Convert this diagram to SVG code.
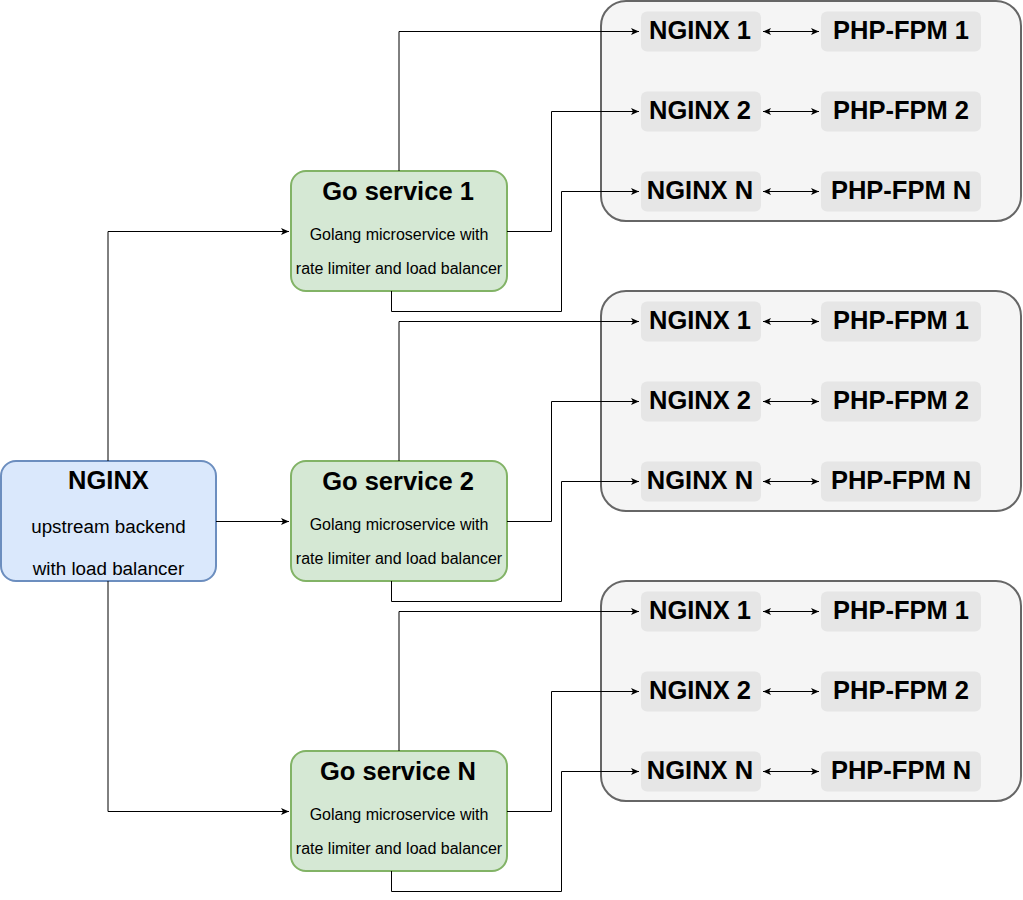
<svg xmlns="http://www.w3.org/2000/svg" width="1023" height="900" viewBox="0 0 1023 900">
<defs>
<style>
.grp{fill:#f5f5f5;stroke:#666666;stroke-width:2}
.inner{fill:#e6e6e6;stroke:none}
.go{fill:#d5e8d4;stroke:#82b366;stroke-width:2}
.lb{fill:#dae8fc;stroke:#6c8ebf;stroke-width:2}
.t{font-family:"Liberation Sans",Arial,sans-serif;fill:#000;text-anchor:middle}
.b{font-weight:bold;font-size:25.5px}
.s{font-size:16px}
.m{font-size:18.8px}
.c{fill:none;stroke:#000;stroke-width:1}
</style>
<marker id="ah" markerWidth="10" markerHeight="10" refX="8" refY="4" orient="auto-start-reverse" markerUnits="userSpaceOnUse" viewBox="0 0 10 8">
<path d="M0,0.5 L8,4 L0,7.5 L2,4 Z" fill="#000"/>
</marker>
</defs>
<g id="lb">
<rect class="lb" x="1" y="461" width="215" height="120" rx="15"/>
<text class="t b" x="108.5" y="489">NGINX</text>
<text class="t m" x="108.5" y="533">upstream backend</text>
<text class="t m" x="108.5" y="575">with load balancer</text>
</g>
<g id="go1">
<rect class="go" x="291" y="171" width="216" height="120" rx="15"/>
<text class="t b" x="398" y="200">Go service 1</text>
<text class="t s" x="399" y="240">Golang microservice with</text>
<text class="t s" x="399" y="274">rate limiter and load balancer</text>
</g>
<g id="go2">
<rect class="go" x="291" y="461" width="216" height="120" rx="15"/>
<text class="t b" x="398" y="490">Go service 2</text>
<text class="t s" x="399" y="530">Golang microservice with</text>
<text class="t s" x="399" y="564">rate limiter and load balancer</text>
</g>
<g id="goN">
<rect class="go" x="291" y="751" width="216" height="120" rx="15"/>
<text class="t b" x="398" y="780">Go service N</text>
<text class="t s" x="399" y="820">Golang microservice with</text>
<text class="t s" x="399" y="854">rate limiter and load balancer</text>
</g>
<g id="cluster1">
<rect class="grp" x="601" y="1" width="420" height="220" rx="25"/>
<g id="c1-nginx1"><rect class="inner" x="641" y="11.5" width="120" height="40" rx="6"/><text class="t b" x="700" y="39">NGINX 1</text></g>
<g id="c1-php1"><rect class="inner" x="821" y="11.5" width="160" height="40" rx="6"/><text class="t b" x="901" y="39">PHP-FPM 1</text></g>
<g id="c1-nginx2"><rect class="inner" x="641" y="91.5" width="120" height="40" rx="6"/><text class="t b" x="700" y="119">NGINX 2</text></g>
<g id="c1-php2"><rect class="inner" x="821" y="91.5" width="160" height="40" rx="6"/><text class="t b" x="901" y="119">PHP-FPM 2</text></g>
<g id="c1-nginxN"><rect class="inner" x="641" y="171.5" width="120" height="40" rx="6"/><text class="t b" x="700" y="199">NGINX N</text></g>
<g id="c1-phpN"><rect class="inner" x="821" y="171.5" width="160" height="40" rx="6"/><text class="t b" x="901" y="199">PHP-FPM N</text></g>
</g>
<g id="cluster2">
<rect class="grp" x="601" y="291" width="420" height="220" rx="25"/>
<g id="c2-nginx1"><rect class="inner" x="641" y="301.5" width="120" height="40" rx="6"/><text class="t b" x="700" y="329">NGINX 1</text></g>
<g id="c2-php1"><rect class="inner" x="821" y="301.5" width="160" height="40" rx="6"/><text class="t b" x="901" y="329">PHP-FPM 1</text></g>
<g id="c2-nginx2"><rect class="inner" x="641" y="381.5" width="120" height="40" rx="6"/><text class="t b" x="700" y="409">NGINX 2</text></g>
<g id="c2-php2"><rect class="inner" x="821" y="381.5" width="160" height="40" rx="6"/><text class="t b" x="901" y="409">PHP-FPM 2</text></g>
<g id="c2-nginxN"><rect class="inner" x="641" y="461.5" width="120" height="40" rx="6"/><text class="t b" x="700" y="489">NGINX N</text></g>
<g id="c2-phpN"><rect class="inner" x="821" y="461.5" width="160" height="40" rx="6"/><text class="t b" x="901" y="489">PHP-FPM N</text></g>
</g>
<g id="cluster3">
<rect class="grp" x="601" y="581" width="420" height="220" rx="25"/>
<g id="c3-nginx1"><rect class="inner" x="641" y="591.5" width="120" height="40" rx="6"/><text class="t b" x="700" y="619">NGINX 1</text></g>
<g id="c3-php1"><rect class="inner" x="821" y="591.5" width="160" height="40" rx="6"/><text class="t b" x="901" y="619">PHP-FPM 1</text></g>
<g id="c3-nginx2"><rect class="inner" x="641" y="671.5" width="120" height="40" rx="6"/><text class="t b" x="700" y="699">NGINX 2</text></g>
<g id="c3-php2"><rect class="inner" x="821" y="671.5" width="160" height="40" rx="6"/><text class="t b" x="901" y="699">PHP-FPM 2</text></g>
<g id="c3-nginxN"><rect class="inner" x="641" y="751.5" width="120" height="40" rx="6"/><text class="t b" x="700" y="779">NGINX N</text></g>
<g id="c3-phpN"><rect class="inner" x="821" y="751.5" width="160" height="40" rx="6"/><text class="t b" x="901" y="779">PHP-FPM N</text></g>
</g>
<g id="connectors">
<path class="c" d="M108,461 V231.5 H289" marker-end="url(#ah)"/>
<path class="c" d="M216,521.5 H289" marker-end="url(#ah)"/>
<path class="c" d="M108,581 V811.5 H289" marker-end="url(#ah)"/>
<path class="c" d="M399,171 V31.5 H639" marker-end="url(#ah)"/>
<path class="c" d="M507,231.5 H551.5 V111.5 H639" marker-end="url(#ah)"/>
<path class="c" d="M391.5,291 V311.5 H561.5 V191.5 H639" marker-end="url(#ah)"/>
<path class="c" d="M399,461 V321.5 H639" marker-end="url(#ah)"/>
<path class="c" d="M507,521.5 H551.5 V401.5 H639" marker-end="url(#ah)"/>
<path class="c" d="M391.5,581 V601.5 H561.5 V481.5 H639" marker-end="url(#ah)"/>
<path class="c" d="M399,751 V611.5 H639" marker-end="url(#ah)"/>
<path class="c" d="M507,811.5 H551.5 V691.5 H639" marker-end="url(#ah)"/>
<path class="c" d="M391.5,871 V891.5 H561.5 V771.5 H639" marker-end="url(#ah)"/>
<path class="c" d="M763,31.5 H819" marker-start="url(#ah)" marker-end="url(#ah)"/>
<path class="c" d="M763,111.5 H819" marker-start="url(#ah)" marker-end="url(#ah)"/>
<path class="c" d="M763,191.5 H819" marker-start="url(#ah)" marker-end="url(#ah)"/>
<path class="c" d="M763,321.5 H819" marker-start="url(#ah)" marker-end="url(#ah)"/>
<path class="c" d="M763,401.5 H819" marker-start="url(#ah)" marker-end="url(#ah)"/>
<path class="c" d="M763,481.5 H819" marker-start="url(#ah)" marker-end="url(#ah)"/>
<path class="c" d="M763,611.5 H819" marker-start="url(#ah)" marker-end="url(#ah)"/>
<path class="c" d="M763,691.5 H819" marker-start="url(#ah)" marker-end="url(#ah)"/>
<path class="c" d="M763,771.5 H819" marker-start="url(#ah)" marker-end="url(#ah)"/>
</g>
</svg>
